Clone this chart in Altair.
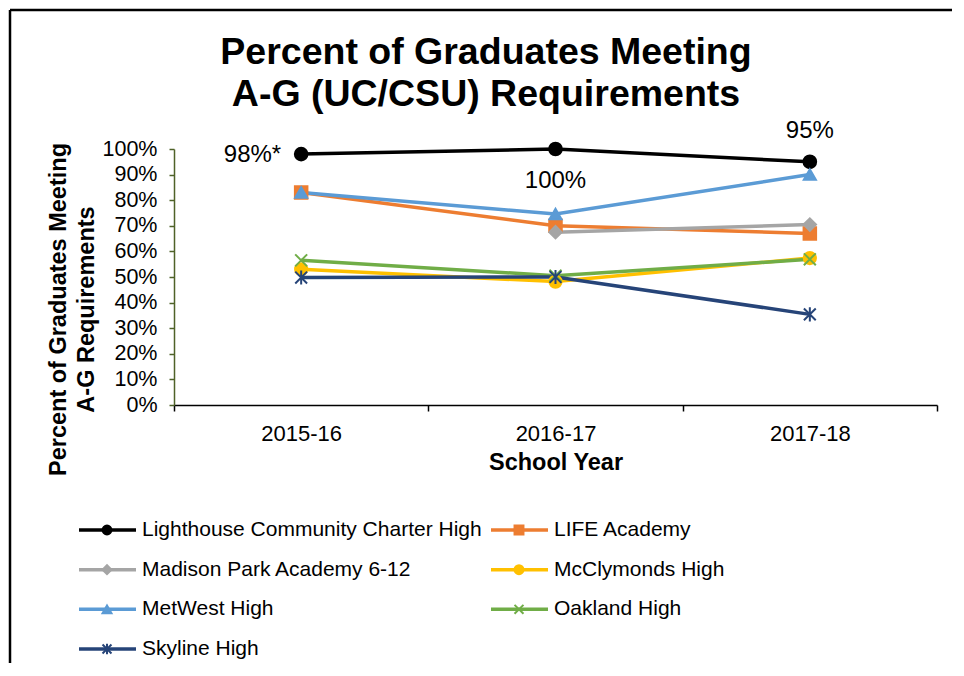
import altair as alt
import pandas as pd

years = ["2015-16", "2016-17", "2017-18"]
schools = [
    "Lighthouse Community Charter High",
    "LIFE Academy",
    "Madison Park Academy 6-12",
    "McClymonds High",
    "MetWest High",
    "Oakland High",
    "Skyline High",
]
lighthouse = [0.98, 1.00, 0.95]
life = [0.83, 0.70, 0.67]
madison = [None, 0.675, 0.705]
mcclymonds = [0.53, 0.482, 0.574]
metwest = [0.83, 0.746, 0.90]
oakland = [0.565, 0.505, 0.569]
skyline = [0.498, 0.50, 0.354]
series = [lighthouse, life, madison, mcclymonds, metwest, oakland, skyline]

colors = ["#000000", "#ED7D31", "#A5A5A5", "#FFC000", "#5B9BD5", "#70AD47", "#264478"]
X_PATH = "M-1,-1L1,1M-1,1L1,-1"
STAR_PATH = "M-1,-1L1,1M-1,1L1,-1M0,-1.2L0,1.2"
shapes = ["circle", "square", "diamond", "circle", "triangle-up", X_PATH, STAR_PATH]
sizes = [160, 140, 130, 130, 130, 110, 120]

title_lines = ["Percent of Graduates Meeting", "A-G (UC/CSU) Requirements"]
y_title = ["Percent of Graduates Meeting", "A-G Requirements"]
x_title = "School Year"
y_ticks = [0.0, 0.1, 0.2, 0.3, 0.4, 0.5, 0.6, 0.7, 0.8, 0.9, 1.0]

label_years = ["2015-16", "2016-17", "2017-18"]
label_values = [0.98, 1.00, 0.95]
label_texts = ["98%*", "100%", "95%"]

legend_col = [0, 1, 0, 1, 0, 1, 0]
legend_row = [0, 0, 1, 1, 2, 2, 3]

rows = []
for s, vals in zip(schools, series):
    for y, v in zip(years, vals):
        if v is not None:
            rows.append({"school": s, "year": y, "val": v})
df = pd.DataFrame(rows)

lab = pd.DataFrame({"year": label_years, "val": label_values, "label": label_texts})
leg = pd.DataFrame({"school": schools, "col": legend_col, "row": legend_row})
one = pd.DataFrame({"k": [0]})

FONT = "Liberation Sans"

color_scale = alt.Scale(domain=schools, range=colors)
shape_scale = alt.Scale(domain=schools, range=shapes)
size_scale = alt.Scale(domain=schools, range=sizes)

x_axis = alt.Axis(
    title=x_title,
    labelAngle=0,
    tickBand="extent",
    domainColor="#000000",
    domainWidth=1.5,
    tickColor="#000000",
    tickWidth=1.5,
    tickSize=6,
    labelFontSize=22,
    labelColor="#000000",
    labelPadding=12,
    titleFontSize=23.5,
    titleFontWeight="bold",
    titleColor="#000000",
    titlePadding=6,
    grid=False,
)
y_axis = alt.Axis(
    title=y_title,
    format=".0%",
    values=y_ticks,
    tickCount=11,
    labelOverlap=False,
    labelSeparation=0,
    domainColor="#4F6228",
    domainWidth=1.5,
    tickColor="#4F6228",
    tickWidth=1.5,
    tickSize=5,
    labelFontSize=21.5,
    labelColor="#000000",
    labelPadding=12,
    titleFontSize=23.5,
    titleFontWeight="bold",
    titleColor="#000000",
    titleLineHeight=28,
    titleAngle=270,
    titleAlign="center",
    titleBaseline="alphabetic",
    titleX=-109,
    titleY=160,
    grid=False,
)


def xe():
    return alt.X(
        "year:N",
        scale=alt.Scale(type="band", domain=years, paddingInner=0, paddingOuter=0),
        axis=x_axis,
    )


def ye():
    return alt.Y("val:Q", scale=alt.Scale(domain=[0, 1], nice=False), axis=y_axis)


base = alt.Chart(df)
lines = base.mark_line(strokeWidth=3.5).encode(
    x=xe(),
    y=ye(),
    color=alt.Color("school:N", scale=color_scale, legend=None),
    detail="school:N",
)
points = base.mark_point(filled=True, opacity=1, strokeWidth=2).encode(
    x=xe(),
    y=ye(),
    fill=alt.Fill("school:N", scale=color_scale, legend=None),
    stroke=alt.Stroke("school:N", scale=color_scale, legend=None),
    shape=alt.Shape("school:N", scale=shape_scale, legend=None),
    size=alt.Size("school:N", scale=size_scale, legend=None),
)

lab_base = alt.Chart(lab)
t1 = lab_base.transform_filter(alt.datum.label == "98%*").mark_text(
    fontSize=24, align="right", baseline="middle", dx=-20, dy=1, color="#000000"
).encode(x=xe(), y=ye(), text="label:N")
t2 = lab_base.transform_filter(alt.datum.label == "100%").mark_text(
    fontSize=24, align="center", baseline="middle", dy=32, color="#000000"
).encode(x=xe(), y=ye(), text="label:N")
t3 = lab_base.transform_filter(alt.datum.label == "95%").mark_text(
    fontSize=24, align="center", baseline="middle", dy=-31, color="#000000"
).encode(x=xe(), y=ye(), text="label:N")

main = alt.layer(lines, points, t1, t2, t3)

lx = alt.X("col:Q", scale=alt.Scale(domain=[0, 1], range=[-95, 317]), axis=None)
ly = alt.Y("row:Q", scale=alt.Scale(domain=[0, 3], range=[381, 500]), axis=None)
leg_base = alt.Chart(leg)
leg_rule = leg_base.mark_rule(strokeWidth=3.5, x2Offset=57).encode(
    x=lx, x2="col:Q", y=ly,
    color=alt.Color("school:N", scale=color_scale, legend=None),
)
leg_pt = leg_base.mark_point(filled=True, opacity=1, strokeWidth=2, xOffset=28).encode(
    x=lx, y=ly,
    fill=alt.Fill("school:N", scale=color_scale, legend=None),
    stroke=alt.Stroke("school:N", scale=color_scale, legend=None),
    shape=alt.Shape("school:N", scale=shape_scale, legend=None),
    size=alt.value(80),
)
leg_txt = leg_base.mark_text(fontSize=21, align="left", baseline="middle", dx=63, color="#000000").encode(
    x=lx, y=ly, text="school:N"
)

# chart title and outer frame (decoration)
one_base = alt.Chart(one)
title_mark = one_base.mark_text(
    text=title_lines, fontSize=37.5, fontWeight="bold", align="center",
    baseline="alphabetic", lineHeight=42, color="#000000",
).encode(x=alt.value(312), y=alt.value(-85))
frame_left = one_base.mark_rule(strokeWidth=2.5, color="#000000").encode(
    x=alt.value(-164), y=alt.value(-139), y2=alt.value(514)
)
frame_top = one_base.mark_rule(strokeWidth=2.5, color="#000000").encode(
    x=alt.value(-164), x2=alt.value(778), y=alt.value(-139)
)

legend_layer = alt.layer(leg_rule, leg_pt, leg_txt, title_mark, frame_left, frame_top)

chart = (
    alt.layer(main, legend_layer)
    .resolve_scale(x="independent", y="independent")
    .properties(width=763, height=256, padding=0)
    .configure(font=FONT)
    .configure_view(stroke=None)
)

chart.save("out.html", embed_options={"renderer": "svg", "actions": False})
